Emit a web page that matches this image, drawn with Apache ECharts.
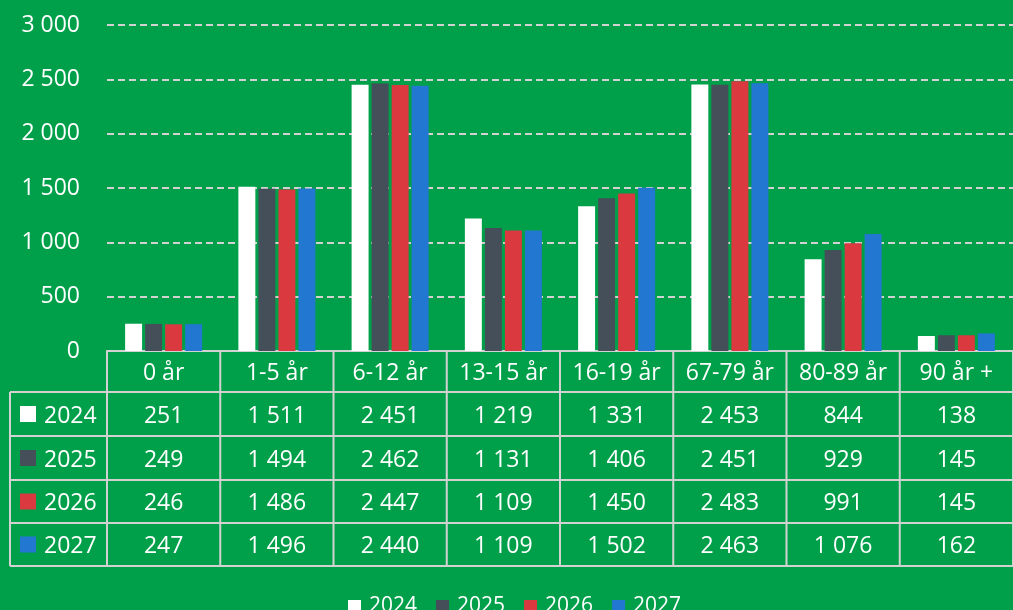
<!DOCTYPE html>
<html>
<head>
<meta charset="utf-8">
<script src="https://cdn.jsdelivr.net/npm/echarts@6/dist/echarts.min.js"></script>
<style>
  html,body{margin:0;padding:0;background:#00a04a;overflow:hidden;}
  #main{width:1013px;height:610px;}
</style>
</head>
<body>
<div id="main"></div>
<script>
// aldersgrupper og år
var categories = ['0 år','1-5 år','6-12 år','13-15 år','16-19 år','67-79 år','80-89 år','90 år +'];
var years = ['2024','2025','2026','2027'];
var v2024 = [251,1511,2451,1219,1331,2453,844,138];
var v2025 = [249,1494,2462,1131,1406,2451,929,145];
var v2026 = [246,1486,2447,1109,1450,2483,991,145];
var v2027 = [247,1496,2440,1109,1502,2463,1076,162];
var yTicks = [0,500,1000,1500,2000,2500,3000];

var values = [v2024,v2025,v2026,v2027];
var colors = ['#ffffff','#444f59','#d9393f','#2277d0'];
var lineColor = '#d2d2d2';
var font = '"Open Sans", Lato, sans-serif';

//tusenskille med mellomrom
var fmt = function(n){
    return String(n).replace(/\B(?=(\d{3})+(?!\d))/g,' ');
};

var chart = echarts.init(document.getElementById('main'));

var series = [];
for (var i=0;i<years.length;i++) {
    series.push({
        name: years[i],
        type: 'bar',
        data: values[i],
        barGap: '18%',
        barCategoryGap: '32%',
        itemStyle: {color: colors[i]}
    });
}

chart.setOption({
    backgroundColor: '#00a04a',
    animation: false,
    grid: {left:107, right:-6, top:25, bottom:259, containLabel:false},
    legend: {
        data: years,
        top: 591,
        left: 343,
        itemWidth: 13,
        itemHeight: 13,
        itemGap: 19,
        icon: 'rect',
        textStyle: {color:'#ffffff', fontSize:21, fontFamily:font, padding:[0,0,0,3]}
    },
    xAxis: {
        type: 'category',
        data: categories,
        axisLine: {show:true, lineStyle:{color:lineColor, width:2}},
        axisTick: {show:false},
        axisLabel: {show:false}
    },
    yAxis: {
        type: 'value',
        min: yTicks[0],
        max: yTicks[yTicks.length-1],
        interval: 500,
        axisLine: {show:false},
        axisTick: {show:false},
        axisLabel: {
            color:'#ffffff', fontSize:23, fontFamily:font, margin:27,
            formatter: function(v){ return fmt(v); }
        },
        splitLine: {lineStyle:{color:lineColor, width:2, type:[7,4]}}
    },
    series: series
});

// tabellen under diagrammet, kolonner hentet fra x-aksen
var drawTable = function(){
    var c0 = chart.convertToPixel({xAxisIndex:0}, 0);
    var c1 = chart.convertToPixel({xAxisIndex:0}, 1);
    var band = c1 - c0;
    var axisY = chart.convertToPixel({yAxisIndex:0}, 0);
    var leftX = 10;
    var firstX = c0 - band/2;
    var lastX = firstX + band*categories.length;
    var rowY = [axisY, axisY+41, axisY+85, axisY+129, axisY+172, axisY+215];
    var els = [];
    var line = function(x1,y1,x2,y2){
        els.push({type:'line', shape:{x1:x1,y1:y1,x2:x2,y2:y2}, style:{stroke:lineColor, lineWidth:2}, silent:true});
    };
    var text = function(x,y,s,align){
        els.push({type:'text', x:x, y:y+2, silent:true, style:{text:s, fill:'#ffffff', font:'23px '+font, align:align||'center', verticalAlign:'middle'}});
    };
    // horisontale linjer
    for (var r=1;r<rowY.length;r++) line(leftX, rowY[r], lastX, rowY[r]);
    // vertikale linjer
    line(leftX, rowY[1], leftX, rowY[5]);
    for (var k=0;k<=categories.length;k++) line(firstX+band*k, rowY[0], firstX+band*k, rowY[5]);
    // overskrifter
    for (var j=0;j<categories.length;j++) text(firstX+band*(j+0.5), (rowY[0]+rowY[1])/2, categories[j]);
    // rader
    for (var s=0;s<years.length;s++) {
        var cy = (rowY[s+1]+rowY[s+2])/2;
        els.push({type:'rect', shape:{x:leftX+10, y:cy-8, width:16, height:16}, style:{fill:colors[s]}, silent:true});
        text(leftX+34, cy, years[s], 'left');
        for (var j2=0;j2<categories.length;j2++) text(firstX+band*(j2+0.5), cy, fmt(values[s][j2]));
    }
    chart.setOption({graphic:[{type:'group', children:els}]});
};
drawTable();
</script>
</body>
</html>
